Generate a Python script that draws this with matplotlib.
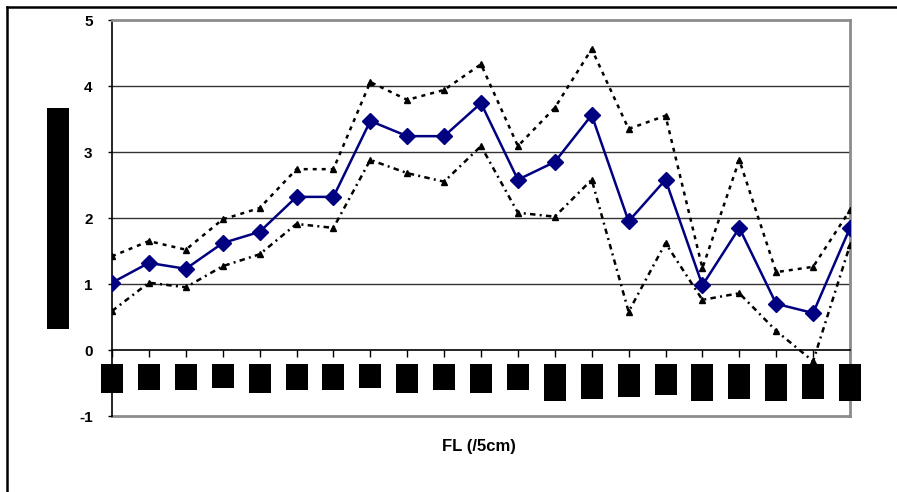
import matplotlib
matplotlib.use("Agg")
import matplotlib.pyplot as plt
from matplotlib.patches import Rectangle
from matplotlib.lines import Line2D
import matplotlib.transforms as mtransforms

plt.rcParams['font.family'] = ['Liberation Sans', 'DejaVu Sans']

# ---- data ----
categories = list(range(1, 22))  # FL classes (labels redacted in source)
mean_vals = [1.02, 1.32, 1.23, 1.62, 1.79, 2.32, 2.32, 3.47, 3.24, 3.24, 3.74,
             2.58, 2.85, 3.56, 1.95, 2.58, 0.98, 1.85, 0.70, 0.56, 1.85]
upper_vals = [1.42, 1.65, 1.52, 1.98, 2.15, 2.74, 2.74, 4.06, 3.79, 3.94, 4.33,
              3.09, 3.67, 4.56, 3.35, 3.55, 1.24, 2.88, 1.18, 1.26, 2.12]
lower_vals = [0.59, 1.02, 0.95, 1.27, 1.45, 1.91, 1.85, 2.88, 2.68, 2.55, 3.09,
              2.08, 2.02, 2.58, 0.58, 1.62, 0.76, 0.86, 0.29, -0.17, 1.59]
y_ticks = [-1, 0, 1, 2, 3, 4, 5]
x_title = "FL (/5cm)"
# heights (px) of the redaction boxes covering the x tick labels
redaction_heights_px = [29, 26, 26, 24, 29, 26, 26, 24, 29, 26, 29,
                        26, 37, 35, 33, 31, 37, 35, 37, 35, 37]

W, H = 897, 492
fig = plt.figure(figsize=(W / 100, H / 100), dpi=100)
ax = fig.add_axes([112 / W, (H - 416) / H, (850 - 112) / W, 396 / H])

x = list(range(len(categories)))

ax.plot(x, upper_vals, color='black', lw=1.8, linestyle=(0, (1.6, 2.0)),
        marker='^', ms=5, mfc='black', mec='black', zorder=3)
ax.plot(x, lower_vals, color='black', lw=1.8, linestyle=(0, (2.2, 1.7, 0.8, 1.7)),
        marker='^', ms=5, mfc='black', mec='black', zorder=3)
ax.plot(x, mean_vals, color='#000080', lw=1.8, marker='D', ms=8.5,
        mfc='#000080', mec='#000080', zorder=4)

ax.set_xlim(0, len(categories) - 1)
ax.set_ylim(-1, 5)

for g in [1, 2, 3, 4]:
    ax.axhline(g, color='#333333', lw=1.0, zorder=1)

# spines
ax.spines['left'].set_color('black')
ax.spines['left'].set_linewidth(1.2)
ax.spines['bottom'].set_position(('data', 0))
ax.spines['bottom'].set_color('black')
ax.spines['bottom'].set_linewidth(1.2)
for s in ['top', 'right']:
    ax.spines[s].set_color('#8c8c8c')
    ax.spines[s].set_linewidth(2)
ax.axhline(-1, color='#8c8c8c', lw=2, clip_on=False, zorder=0)

ax.set_yticks(y_ticks)
ax.set_yticklabels([str(v) for v in y_ticks], fontsize=11, fontweight='bold')
ax.tick_params(axis='y', direction='out', length=3, width=1, pad=11)
ax.set_xticks(x)
ax.set_xticklabels([''] * len(x))
ax.tick_params(axis='x', direction='out', length=5, width=1)

# redaction boxes for x tick labels
trans = mtransforms.blended_transform_factory(ax.transData, fig.transFigure)
ppx = 1.0 / (ax.transData.transform((1, 0))[0] - ax.transData.transform((0, 0))[0])
for xi, hpx in zip(x, redaction_heights_px):
    top = 363.5
    r = Rectangle((xi - 11 * ppx, (H - top - hpx) / H), 22 * ppx, hpx / H,
                  transform=trans, facecolor='black', edgecolor='none',
                  clip_on=False, zorder=5)
    fig.add_artist(r)

# redaction box for y-axis label
fig.add_artist(Rectangle((47 / W, (H - 329) / H), 22 / W, 221 / H,
                         transform=fig.transFigure, facecolor='black',
                         edgecolor='none'))

# x title
fig.text(479 / W, 1 - 446 / H, x_title, ha='center', va='center',
         fontsize=12, fontweight='bold')

# outer frame (left and top visible)
fig.add_artist(Line2D([7 / W, 7 / W], [0, 1 - 7 / H], transform=fig.transFigure,
                      color='black', lw=1.8))
fig.add_artist(Line2D([7 / W, 1], [1 - 7 / H, 1 - 7 / H], transform=fig.transFigure,
                      color='black', lw=1.8))

fig.savefig('out.png', dpi=100)
